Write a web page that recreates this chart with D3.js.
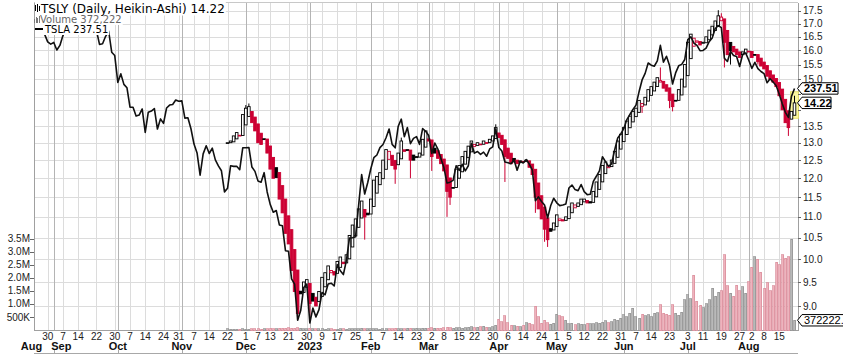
<!DOCTYPE html>
<html><head><meta charset="utf-8">
<script src="https://cdn.jsdelivr.net/npm/d3@7/dist/d3.min.js"></script>
<style>body{margin:0;background:#fff}svg{display:block}</style>
</head><body><svg id="c" width="843" height="357"></svg>
<script>
// ---------------- DATA ----------------
const holidays = ["2022-09-05","2022-11-24","2022-12-26","2023-01-02","2023-01-16","2023-02-20","2023-04-07","2023-05-29","2023-06-19","2023-07-04"];
const firstDay = "2022-08-24";
const lastDay = "2023-08-22";

// TSLA close (overlay line), one per trading day from firstDay
const tslaClose = [
 297.10,296.07,288.09,284.82,277.70,275.61,
 277.16,270.21,274.42,283.70,289.26,299.68,304.42,292.13,302.61,303.75,303.35,309.07,308.73,300.80,288.59,275.33,276.01,282.94,287.81,268.21,265.25,
 242.40,249.44,240.81,238.13,223.07,222.96,216.50,217.24,221.72,204.99,219.35,220.19,222.04,207.28,214.44,211.25,222.42,224.64,225.09,228.52,227.54,
 227.82,214.98,215.31,207.47,197.08,191.30,177.59,190.72,195.97,190.95,194.42,186.92,183.17,180.19,167.87,169.91,183.20,182.86,182.92,180.83,194.70,
 194.70,194.86,182.45,179.82,174.04,173.44,179.05,167.82,160.95,156.80,157.67,150.23,149.87,137.80,137.57,125.35,123.15,109.10,112.71,121.82,123.18,
 108.10,113.64,110.34,113.06,119.77,118.85,123.22,123.56,122.40,131.49,128.78,127.17,133.42,143.75,143.89,144.43,160.27,177.90,166.66,173.22,
 181.41,188.27,189.98,194.76,196.81,201.29,207.32,196.89,194.64,209.25,214.24,202.04,208.31,197.37,200.86,202.07,196.88,207.63,205.71,
 202.77,190.90,197.79,193.81,187.71,182.00,172.92,173.44,174.48,183.26,180.45,184.13,180.13,183.25,197.58,191.15,192.22,190.41,191.81,189.19,193.88,195.28,207.46,
 194.77,192.58,185.52,185.06,184.51,186.79,180.54,185.90,185.00,187.04,184.31,180.59,162.99,165.08,162.55,160.67,153.75,160.19,164.31,
 161.83,160.31,160.61,161.20,170.06,171.79,169.15,168.54,172.08,167.98,166.35,166.52,173.86,176.89,180.14,188.87,185.77,182.90,184.47,193.17,201.16,203.93,
 207.52,213.97,217.61,221.31,224.57,234.86,244.40,249.83,258.71,256.79,255.90,260.54,274.45,259.46,264.61,256.60,241.05,250.21,256.24,257.50,261.77,
 279.82,282.48,276.54,274.43,269.61,269.79,271.99,277.90,281.38,290.38,293.34,291.26,262.90,260.02,269.06,265.28,264.35,255.71,266.44,267.43,
 261.07,254.11,259.32,253.86,251.45,249.70,242.19,245.34,242.65,239.76,232.96,225.60,219.22,215.49,231.28,237.51
];

// TSLY Heikin-Ashi close, one per trading day from tslyStart
const tslyStart = "2022-11-22";
const tslyClose = [
 13.00,13.05,13.20,13.30,13.22,13.85,
 14.05,14.10,13.60,13.35,13.00,12.95,13.10,12.70,12.25,12.00,12.02,11.45,11.10,10.60,10.35,9.75,9.30,8.85,9.25,9.50,9.55,
 9.05,9.10,9.00,9.30,9.60,9.70,9.85,9.75,9.65,9.95,10.05,9.90,10.10,10.55,10.80,10.95,11.20,11.40,11.00,11.05,
 11.45,11.95,12.05,12.15,12.50,12.80,12.75,12.35,12.25,12.70,13.05,12.75,12.80,12.50,12.50,12.60,12.70,13.10,13.35,
 13.05,12.60,12.70,12.55,12.40,12.20,11.65,11.50,11.75,12.25,12.35,12.60,12.75,12.90,13.05,12.95,13.00,12.95,13.05,13.00,13.10,13.20,13.45,
 13.15,12.95,12.60,12.55,12.40,12.45,12.40,12.48,12.45,12.50,12.30,12.10,11.50,11.20,10.95,10.70,10.45,10.65,10.85,
 11.05,10.95,10.90,11.00,11.25,11.35,11.30,11.35,11.45,11.45,11.35,11.35,11.65,11.90,12.10,12.35,12.45,12.35,12.50,12.75,13.05,13.25,
 13.45,13.65,13.80,13.95,14.05,14.30,14.20,14.40,14.65,14.75,14.90,15.05,14.95,14.70,14.60,14.30,14.10,14.30,14.65,15.00,15.50,
 16.30,16.60,16.45,16.35,16.20,16.30,16.50,16.75,16.90,17.10,17.30,17.25,16.30,15.85,16.00,15.95,15.85,15.75,15.95,16.05,
 15.95,15.75,15.85,15.60,15.45,15.35,15.10,15.00,14.90,14.75,14.45,14.00,13.60,13.45,13.95,14.22
];
const tslyWickHigh = [["2022-12-01",14.15],["2022-12-02",14.2],["2023-02-15",13.15],["2023-03-31",13.55],["2023-06-20",15.4],["2023-07-18",17.52],["2023-07-19",17.4],["2023-08-22",14.45]];
const tslyWickLow = [["2022-12-27",8.72],["2023-01-03",8.72],["2023-01-30",10.45],["2023-02-13",11.85],["2023-02-21",12.0],["2023-03-02",12.2],["2023-03-09",11.0],["2023-03-10",11.3],["2023-04-05",11.9],["2023-04-20",11.1],["2023-04-25",10.4],["2023-04-26",10.28],["2023-06-09",13.9],["2023-06-23",14.05],["2023-06-26",13.95],["2023-07-20",15.4],["2023-07-24",15.5],["2023-08-04",15.5],["2023-08-18",13.2]];
const tslyVolume = [
 45000,30000,20000,25000,30000,40000,
 35000,30000,40000,50000,45000,35000,40000,55000,60000,50000,45000,70000,65000,60000,80000,75000,70000,90000,60000,55000,50000,
 60000,45000,50000,40000,55000,35000,45000,40000,30000,35000,40000,45000,35000,50000,45000,40000,55000,60000,50000,45000,
 40000,50000,45000,35000,40000,45000,50000,55000,60000,50000,45000,55000,60000,65000,55000,60000,50000,70000,75000,
 60000,80000,70000,65000,75000,90000,110000,85000,70000,80000,90000,75000,85000,100000,120000,95000,110000,130000,150000,105000,95000,120000,180000,
 420000,320000,550000,280000,190000,160000,140000,130000,190000,270000,260000,200000,900000,500000,260000,380000,270000,220000,250000,
 610000,550000,500000,380000,230000,260000,210000,230000,220000,200000,260000,230000,240000,280000,250000,300000,350000,280000,310000,420000,380000,450000,
 580000,510000,640000,830000,510000,450000,610000,550000,580000,500000,640000,660000,960000,640000,600000,560000,960000,640000,560000,680000,1150000,
 1340000,1200000,2100000,1100000,950000,850000,1000000,1150000,1600000,1300000,1450000,1500000,2870000,1700000,1400000,1300000,1720000,1500000,1650000,1400000,
 1850000,2400000,2800000,2700000,2200000,1600000,1800000,1500000,1700000,2600000,2500000,2870000,2750000,2800000,3470000,372222
];

const priceTicks = [9.0,9.5,10.0,10.5,11.0,11.5,12.0,12.5,13.0,13.5,14.0,14.5,15.0,15.5,16.0,16.5,17.0,17.5];
const volumeTicks = [500000,1000000,1500000,2000000,2500000,3000000,3500000];
const volumeTickLabels = ["500K","1.0M","1.5M","2.0M","2.5M","3.0M","3.5M"];
const dayTicks = ["2022-08-30","2022-09-07","2022-09-14","2022-09-22","2022-09-30","2022-10-07","2022-10-14","2022-10-24","2022-10-31","2022-11-07","2022-11-14","2022-11-22","2022-12-01","2022-12-07","2022-12-13","2022-12-21","2022-12-30","2023-01-09","2023-01-17","2023-01-25","2023-02-01","2023-02-07","2023-02-14","2023-02-23","2023-03-02","2023-03-08","2023-03-15","2023-03-22","2023-03-30","2023-04-06","2023-04-14","2023-04-24","2023-05-01","2023-05-05","2023-05-12","2023-05-22","2023-05-31","2023-06-07","2023-06-14","2023-06-23","2023-07-03","2023-07-11","2023-07-19","2023-07-27","2023-08-02","2023-08-08","2023-08-15"];
const monthLabels = [["2022-08-24","Aug"],["2022-09-01","Sep"],["2022-10-03","Oct"],["2022-11-01","Nov"],["2022-12-01","Dec"],["2023-01-03","2023"],["2023-02-01","Feb"],["2023-03-01","Mar"],["2023-04-03","Apr"],["2023-05-01","May"],["2023-06-01","Jun"],["2023-07-03","Jul"],["2023-08-01","Aug"]];
const legendTitle = "TSLY (Daily, Heikin-Ashi) 14.22";
const legendVolume = "Volume 372,222";
const legendOverlay = "TSLA 237.51";
const lastTslaLabel = "237.51";
const lastTslyLabel = "14.22";
const lastVolumeLabel = "372222.";

// ---------------- LAYOUT ----------------
const svg = d3.select("#c");
const L = 34, R = 798, T = 2.5, B = 330.5;
const RED = "#cc0033";
const fmt = d3.utcFormat("%Y-%m-%d");
const hol = new Set(holidays);
const dates = d3.utcDay.range(new Date(firstDay+"T00:00:00Z"), d3.utcDay.offset(new Date(lastDay+"T00:00:00Z"),1))
  .filter(d => d.getUTCDay()!==0 && d.getUTCDay()!==6 && !hol.has(fmt(d))).map(fmt);

const x = d3.scalePoint().domain(dates).range([35.5, 794.5]);
const y = d3.scaleLog().domain([8.5265, 17.927]).range([330, 0]);
const yT = d3.scaleLog().domain([105.6, 319.6]).range([330, 0]);
const yV = d3.scaleLinear().domain([0, 3500000]).range([330, 238.5]);

// grid
const g = svg.append("g").attr("shape-rendering","crispEdges");
g.selectAll(".hg").data(priceTicks).join("line")
  .attr("x1",L).attr("x2",R).attr("y1",d=>Math.round(y(d))+0.5).attr("y2",d=>Math.round(y(d))+0.5)
  .attr("stroke","#dcdcdc");
g.selectAll(".vg").data(dayTicks).join("line")
  .attr("x1",d=>Math.round(x(d))+0.5).attr("x2",d=>Math.round(x(d))+0.5).attr("y1",T).attr("y2",B)
  .attr("stroke","#dcdcdc");
g.selectAll(".mg").data(monthLabels.slice(1)).join("line")
  .attr("x1",d=>Math.round(x(d[0]))+0.5).attr("x2",d=>Math.round(x(d[0]))+0.5).attr("y1",T).attr("y2",B)
  .attr("stroke","#b4b4b4");
// frame
g.append("line").attr("x1",L).attr("x2",R).attr("y1",T).attr("y2",T).attr("stroke","#c8c8c8");
g.append("line").attr("x1",L+0.5).attr("x2",L+0.5).attr("y1",T).attr("y2",B).attr("stroke","#a0a0a0");
g.append("line").attr("x1",R+0.5).attr("x2",R+0.5).attr("y1",T).attr("y2",B).attr("stroke","#a0a0a0");
g.append("line").attr("x1",L).attr("x2",R).attr("y1",B).attr("y2",B).attr("stroke","#a0a0a0");
g.append("line").attr("x1",L).attr("x2",R).attr("y1",353.5).attr("y2",353.5).attr("stroke","#a8a8a8");
g.selectAll(".bt").data(monthLabels.slice(1)).join("line")
  .attr("x1",d=>Math.round(x(d[0]))+0.5).attr("x2",d=>Math.round(x(d[0]))+0.5).attr("y1",350).attr("y2",353.5)
  .attr("stroke","#a8a8a8");

// HA candles
const sIdx = dates.indexOf(tslyStart);
const wh = new Map(tslyWickHigh), wl = new Map(tslyWickLow);
const ha = [];
tslyClose.forEach((c,i)=>{
  const date = dates[sIdx+i];
  const o = i===0 ? c : (ha[i-1].o + ha[i-1].c)/2;
  const hi = Math.max(o,c, wh.get(date) ?? 0);
  const lo = Math.min(o,c, wl.get(date) ?? 1e9);
  const prevC = i===0 ? c : ha[i-1].c;
  ha.push({date,o,c,hi,lo,vol:tslyVolume[i],hollow:c>=o,red:c<prevC});
});

// volume bars
const vg = svg.append("g").attr("shape-rendering","crispEdges");
vg.selectAll("rect").data(ha).join("rect")
  .attr("x",d=>Math.round(x(d.date)-1.5)+0.5).attr("width",2.4)
  .attr("y",d=>yV(d.vol)).attr("height",d=>Math.max(0.6,330.5-yV(d.vol)))
  .attr("fill",d=>d.red?"#efb3bd":"#b9b9b9")
  .attr("stroke",d=>d.red?"#d98a98":"#8f8f8f").attr("stroke-width",0.7);

// yellow highlight of last bar
const last = ha[ha.length-1];
svg.append("rect").attr("x",x(last.date)-4).attr("width",8)
  .attr("y",y(last.hi)-4).attr("height",y(last.lo)-y(last.hi)+7)
  .attr("fill","#fbf7a0").attr("stroke","#e3dc5a").attr("stroke-width",0.8);

const cg = svg.append("g");
cg.selectAll("line").data(ha).join("line")
  .attr("x1",d=>x(d.date)).attr("x2",d=>x(d.date))
  .attr("y1",d=>y(d.hi)).attr("y2",d=>y(d.lo))
  .attr("stroke",d=>d.red?RED:"#000").attr("stroke-width",1);
cg.selectAll("rect").data(ha).join("rect")
  .attr("x",d=>x(d.date)-1.3).attr("width",2.6)
  .attr("y",d=>y(Math.max(d.o,d.c))).attr("height",d=>Math.max(0.8,y(Math.min(d.o,d.c))-y(Math.max(d.o,d.c))))
  .attr("fill",d=>d.hollow?"#fff":(d.red?RED:"#000"))
  .attr("stroke",d=>d.red?RED:"#000").attr("stroke-width",0.9);

// TSLA overlay line
svg.append("path").datum(tslaClose)
  .attr("d",d3.line().x((d,i)=>x(dates[i])).y(d=>yT(d)))
  .attr("fill","none").attr("stroke","#111").attr("stroke-width",1.6).attr("stroke-linejoin","round");

// value tag positions (used to hide axis labels that sit under them, as in the reference)
const tagYs = [yT(tslaClose[tslaClose.length-1]), y(last.c)];

// right price axis
const ax = svg.append("g").attr("font-family","'Liberation Sans',Arial,sans-serif").attr("font-size",10).attr("fill","#222");
ax.selectAll(".rt").data(priceTicks).join("line")
  .attr("x1",R).attr("x2",R+3).attr("y1",d=>Math.round(y(d))+0.5).attr("y2",d=>Math.round(y(d))+0.5)
  .attr("stroke","#666").attr("shape-rendering","crispEdges");
ax.selectAll(".rl").data(priceTicks.filter(p=>!tagYs.some(t=>Math.abs(y(p)-t)<8))).join("text")
  .attr("x",803).attr("y",d=>y(d)+3.6).text(d=>d.toFixed(1));
// left volume axis
ax.selectAll(".lt").data(volumeTicks).join("line")
  .attr("x1",L-4).attr("x2",L).attr("y1",d=>Math.round(yV(d))+0.5).attr("y2",d=>Math.round(yV(d))+0.5)
  .attr("stroke","#666").attr("shape-rendering","crispEdges");
ax.selectAll(".ll").data(volumeTicks).join("text")
  .attr("x",L-4).attr("text-anchor","end").attr("y",d=>yV(d)+3.6).text((d,i)=>volumeTickLabels[i]);
// bottom day labels
ax.selectAll(".dl").data(dayTicks).join("text")
  .attr("x",d=>x(d)).attr("text-anchor","middle").attr("y",339.5)
  .text(d=>+d.slice(8));
// month labels with collision nudge
let prevRight = -1e9;
const mt = ax.append("g").attr("font-weight","bold").attr("font-size",11).attr("fill","#111");
monthLabels.forEach((m,i)=>{
  const t = mt.append("text").attr("text-anchor","middle").attr("y",350).text(m[1]);
  const w = t.node().getComputedTextLength();
  let cx = x(m[0]) - (i===0?4:0);
  if (cx - w/2 < prevRight + 9) cx = prevRight + 9 + w/2;
  t.attr("x",cx);
  prevRight = cx + w/2;
});

// right value tags
function tag(yy, text, bold, width){
  const gg = svg.append("g");
  gg.append("path").attr("d",`M${R-0.5},${yy} L${R+4},${yy-5.7} L${R+4+width},${yy-5.7} L${R+4+width},${yy+5.7} L${R+4},${yy+5.7} Z`)
    .attr("fill","#fff").attr("stroke","#000").attr("stroke-width",1);
  gg.append("text").attr("x",R+6).attr("y",yy+4).attr("font-family","'Liberation Sans',Arial,sans-serif")
    .attr("font-size",11).attr("font-weight",bold?"bold":"normal").attr("fill","#000").text(text);
}
tag(tagYs[0], lastTslaLabel, true, 36);
tag(tagYs[1], lastTslyLabel, true, 29);
tag(yV(last.vol), lastVolumeLabel, false, 45);

// legend
const lg = svg.append("g").attr("font-family","'DejaVu Sans',Verdana,sans-serif");
function legendRow(tx, ty, size, color, text){
  const t = lg.append("text").attr("x",tx).attr("y",ty).attr("font-size",size).attr("fill",color).text(text);
  const bb = t.node().getBBox();
  lg.insert("rect","text").attr("x",L+1).attr("y",bb.y).attr("width",bb.x+bb.width-L).attr("height",bb.height).attr("fill","#fff");
  return t;
}
legendRow(41, 12.5, 12, "#000", legendTitle);
legendRow(40, 23, 10, "#666", legendVolume);
legendRow(45, 33, 10, "#000", legendOverlay);
// icons
const ic = lg.append("g").attr("shape-rendering","crispEdges");
[[35,5,6],[37,4,8],[39,6,5]].forEach(d=>ic.append("rect").attr("x",d[0]).attr("y",d[1]).attr("width",1.2).attr("height",d[2]).attr("fill","#000"));
ic.append("rect").attr("x",34.5).attr("y",6).attr("width",1.8).attr("height",3).attr("fill","#000");
ic.append("rect").attr("x",38.5).attr("y",7).attr("width",1.8).attr("height",3).attr("fill","#000");
[[34,19,4],[35.6,17,6],[37.2,18,5],[38.8,16,7]].forEach(d=>ic.append("rect").attr("x",d[0]).attr("y",d[1]).attr("width",1.2).attr("height",d[2]).attr("fill","#777"));
ic.append("rect").attr("x",35).attr("y",28).attr("width",8).attr("height",2.2).attr("fill","#000");
</script>
</body></html>
